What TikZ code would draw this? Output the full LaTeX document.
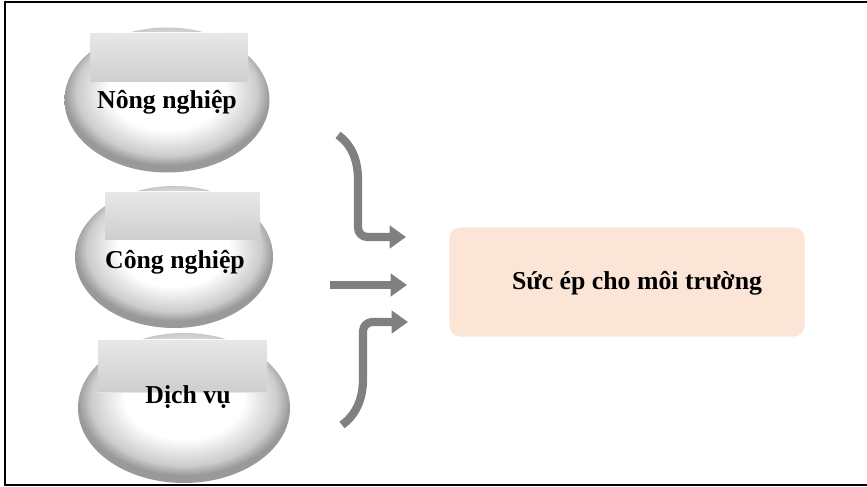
\documentclass[tikz,border=0pt]{standalone}
\usepackage{fontspec}
\setmainfont{Liberation Serif}
\usetikzlibrary{shapes.geometric,arrows.meta}
\definecolor{peach}{RGB}{251,229,214}
\pgfdeclareradialshading{pebble}{\pgfpoint{0bp}{5bp}}{color(0bp)=(white); color(14bp)=(white); color(22bp)=(gray!40); color(25bp)=(gray!80); color(50bp)=(gray!80)}

\tikzset{
  sector/.style={ellipse, inner sep=0pt, shading=pebble},
  tag/.style={top color=white, bottom color=gray!22, fill opacity=0.9},
  caption/.style={font=\fontsize{22}{26}\selectfont\bfseries},
  feed/.style={draw=gray, line width=7pt, rounded corners=8pt, -{Triangle[length=14pt,width=19pt]}},
  pressbox/.style={rounded corners=9pt, fill=peach, minimum width=10.65cm, minimum height=3.27cm}
}

\begin{document}
\begin{tikzpicture}[x=0.03cm, y=-0.03cm]
    \useasboundingbox (0,0) rectangle (867,487);

    % Frame (open on the right)
    \draw[line width=1.7pt] (867,2) -- (5,2) -- (5,485) -- (867,485);

    % Three sectors
    \node[sector, minimum width=6.15cm, minimum height=4.35cm] (agri) at (167,100) {};
    \node[sector, minimum width=5.94cm, minimum height=4.26cm] (indu) at (174,257) {};
    \node[sector, minimum width=6.36cm, minimum height=4.5cm] (serv) at (184,408) {};

    % Light tags on top of the sectors
    \fill[tag] (90,33) rectangle (248,82);
    \fill[tag] (105,192) rectangle (260,240);
    \fill[tag] (98,340) rectangle (267,392);

    \node[caption] (agritext) at (167,102) {Nông nghiệp};
    \node[caption] (indutext) at (175,262) {Công nghiệp};
    \node[caption] (servtext) at (188,397) {Dịch vụ};

    % Pressure box
    \node[pressbox] (press) at (627,282) {};
    \node[caption] (presstext) at (637,283) {Sức ép cho môi trường};

    % Arrows
    \coordinate (in1) at (338,135);
    \coordinate (out1) at (406,237);
    \coordinate (in2) at (330,285);
    \coordinate (out2) at (407,285);
    \coordinate (in3) at (342,425);
    \coordinate (out3) at (408,322);

    \draw[feed] (in1) .. controls (356,148) and (358,168) .. (358,190) |- (out1);
    \draw[feed] (in2) -- (out2);
    \draw[feed] (in3) .. controls (360,412) and (363,392) .. (363,370) |- (out3);
\end{tikzpicture}
\end{document}
